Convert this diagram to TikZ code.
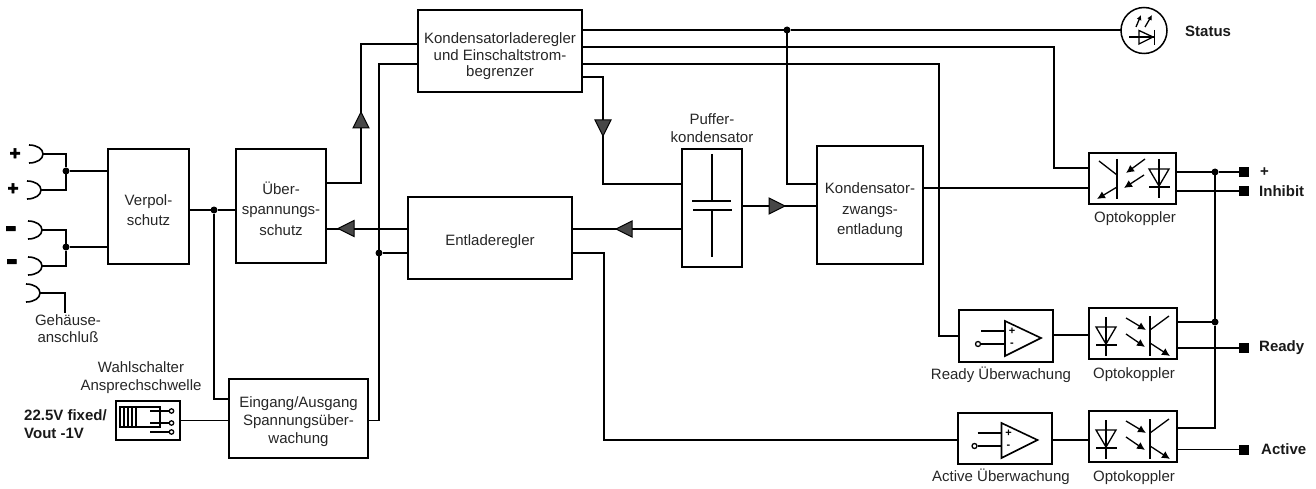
\documentclass[tikz,border=0pt]{standalone}
\usepackage{fontspec}
\setmainfont{Liberation Sans}
\newfontfamily\heavyfont[FakeBold=2.5]{Liberation Sans Bold}
\usetikzlibrary{arrows.meta}
\newcommand{\dn}{\rule{0pt}{18pt}}
\newcommand{\dnn}{\rule{0pt}{22pt}}
\newcommand{\socketsym}[3]{\coordinate (#1) at (#2,#3);
  \draw[wire] (#2-14,#3-9) .. controls (#2-6,#3-9) and (#2,#3-5) .. (#2,#3) .. controls (#2,#3+5) and (#2-6,#3+9) .. (#2-14,#3+9);}
\newcommand{\optoL}[2]{% LED left, transistor right; #1 x, #2 y of box corner
  \begin{scope}[shift={(#1,#2)}]
    \draw[sym] (17,9) -- (17,48) (7,37) -- (28,37);
    \draw[sym] (7,19) -- (27,19) -- (17,36) -- cycle;
    \draw[sym,-{Latex[length=8pt,width=8pt]}] (37,10) -- (57,22);
    \draw[sym,-{Latex[length=8pt,width=8pt]}] (37,26) -- (56,39);
    \draw[wire] (61,8) -- (61,48);
    \draw[sym] (61,22) -- (80,8);
    \draw[sym,-{Latex[length=8pt,width=8pt]}] (61,35) -- (81,48);
  \end{scope}}
\newcommand{\opampsym}[2]{\begin{scope}[shift={(#1,#2)}]
    \draw[wire] (46,11) -- (46,46) -- (82,28) -- cycle;
    \draw[sym] (22,21) -- (46,21) (22,34) -- (46,34);
    \draw[sym,fill=white] (19,34) circle (2.5);
    \node[opmark] at (53,21.5) {+};
    \node[opmark] at (53,35) {-};
  \end{scope}}
\tikzset{
  box/.style={draw=black,line width=1.6pt,fill=white,align=center,inner sep=0pt,outer sep=0pt,font=\fontsize{15}{20.5}\selectfont,text=black!85},
  wire/.style={line width=1.6pt,black},
  thick wire/.style={line width=2.1pt,black},
  sym/.style={line width=1.3pt,black},
  lab/.style={align=center,inner sep=0pt,font=\fontsize{15}{18}\selectfont,text=black!85},
  blab/.style={anchor=west,align=left,inner sep=0pt,font=\fontsize{15}{18}\selectfont\bfseries,text=black!90},
  opmark/.style={inner sep=0pt,font=\fontsize{11}{11}\selectfont\bfseries},
  jdot/.style={circle,fill=black,inner sep=0pt,minimum size=7pt,outer sep=0pt},
  pin/.style={rectangle,fill=black,inner sep=0pt,minimum size=10pt,outer sep=0pt},
  tri/.style={draw=black,line width=1pt,fill=black!72,line join=miter},
  plusmark/.style={inner sep=0pt,font=\fontsize{19}{19}\heavyfont},
  minusmark/.style={inner sep=0pt,font=\fontsize{34}{34}\heavyfont},
}
\begin{document}
\begin{tikzpicture}[x=1pt,y=-1pt]
\useasboundingbox (0,0) rectangle (1316,489);
% Boxes
\node[box,minimum width=81pt,minimum height=115pt] (ver) at (148.5,206.5) {\dn Verpol-\\schutz};
\node[box,minimum width=90pt,minimum height=114pt] (ueb) at (281,206) {\dn Über-\\spannungs-\\schutz};
\node[box,minimum width=139pt,minimum height=79pt,font=\fontsize{15}{18}\selectfont] (ein) at (298.5,418.5) {\dn Eingang/Ausgang\\Spannungsüber-\\wachung};
\node[box,minimum width=64pt,minimum height=39pt] (swi) at (148,420.5) {};
\node[box,minimum width=164pt,minimum height=82pt,font=\fontsize{15}{16.5}\selectfont] (kon) at (500,51) {\dnn Kondensatorladeregler\\und Einschaltstrom-\\begrenzer};
\node[box,minimum width=164pt,minimum height=82pt] (ent) at (490,238) {\dn Entladeregler};
\node[box,minimum width=60pt,minimum height=118pt] (puf) at (712,208) {};
\node[box,minimum width=106pt,minimum height=118pt] (zwa) at (870,205) {\dnn Kondensator-\\zwangs-\\entladung};
\node[box,minimum width=87pt,minimum height=51pt] (op1) at (1132.5,178.5) {};
\node[box,minimum width=88pt,minimum height=51pt] (op2) at (1133,333.5) {};
\node[box,minimum width=88pt,minimum height=51pt] (op3) at (1133,436.5) {};
\node[box,minimum width=94pt,minimum height=52pt] (rdy) at (1006,336) {};
\node[box,minimum width=94pt,minimum height=51pt] (act) at (1005,438.5) {};
\node[draw=black,line width=1.5pt,circle,minimum size=46pt,inner sep=0pt,outer sep=0pt] (led) at (1144,30.5) {};
% Terminals
\socketsym{s1}{43}{154}
\socketsym{s2}{41}{190}
\socketsym{s3}{42}{230}
\socketsym{s4}{42}{266}
\socketsym{s5}{40}{293}
\node[plusmark] (p1) at (15,154) {+};
\node[plusmark] (p2) at (13,189) {+};
\node[minusmark] (p3) at (11,232) {-};
\node[minusmark] (p4) at (12,265) {-};
\node[jdot] (j1) at (66,171) {};
\node[jdot] (j2) at (66,247) {};
\node[jdot] (j3) at (214,210) {};
\node[jdot] (j4) at (379,253) {};
\node[jdot] (j5) at (787,30) {};
\node[jdot] (j6) at (1215,172) {};
\node[jdot] (j7) at (1215,322) {};
\node[pin] (t1) at (1244,172) {};
\node[pin] (t2) at (1244,191) {};
\node[pin] (t3) at (1243.5,348) {};
\node[pin] (t4) at (1244,449.5) {};
% Connectors, left part
\draw[wire] (s1) -- (66,154) -- (j1) (s2) -- (66,190) -- (j1);
\draw[wire] (s3) -- (66,230) -- (j2) (s4) -- (66,266) -- (j2);
\coordinate (gnd) at (65,313);
\draw[sym] (s5) -- (gnd |- s5) -- (gnd);
\draw[wire] (j1) -- (ver.west |- j1);
\draw[wire] (j2) -- (ver.west |- j2);
\draw[wire] (ver.east |- j3) -- (j3) -- (ueb.west |- j3);
\draw[wire] (j3) -- (214,399) -- (ein.west |- 0,399);
\draw[wire] (swi.east) -- (ein.west |- swi.east);
\draw[wire] (ein.east |- swi.east) -- (379,420.5) -- (379,64) -- (kon.west |- 0,64);
\draw[wire] (j4) -- (ent.west |- j4);
\draw[thick wire] (ueb.east |- 0,183) -- (361,183) -- (361,44) -- (kon.west |- 0,44);
\draw[wire] (ent.west |- 0,229) -- (ueb.east |- 0,229);
\draw[wire] (puf.west |- 0,229) -- (ent.east |- 0,229);
% Connectors, top part
\draw[thick wire] (kon.east |- 0,30) -- (j5) -- (led.west |- j5);
\draw[wire] (j5) -- (787,184) -- (zwa.west |- 0,184);
\draw[wire] (kon.east |- 0,47) -- (1054,47) -- (1054,168) -- (op1.west |- 0,168);
\draw[wire] (kon.east |- 0,64) -- (939,64) -- (939,336) -- (rdy.west |- 0,336);
\draw[wire] (kon.east |- 0,77) -- (603,77) -- (603,184) -- (puf.west |- 0,184);
\draw[wire] (puf.east |- 0,206) -- (zwa.west |- 0,206);
\draw[wire] (zwa.east |- 0,188) -- (op1.west |- 0,188);
\draw[wire] (ent.east |- 0,253) -- (604,253) -- (604,440) -- (act.west |- 0,440);
\draw[wire] (rdy.east |- 0,335) -- (op2.west |- 0,335);
\draw[wire] (act.east |- 0,440) -- (op3.west |- 0,440);
% Connectors, right part
\draw[wire] (op1.east |- j6) -- (j6) -- (t1);
\draw[wire] (op1.east |- t2) -- (t2);
\draw[wire] (j6) -- (j7) -- (1215,428) -- (op3.east |- 0,428);
\draw[wire] (op2.east |- j7) -- (j7);
\draw[wire] (op2.east |- t3) -- (t3);
\draw[wire] (op3.east |- t4) -- (t4);
% Flow triangles
\draw[tri] (361,112) -- (353,128) -- (369,128) -- cycle;
\draw[tri] (338,228.5) -- (354,220.5) -- (354,236.5) -- cycle;
\draw[tri] (616,229) -- (632,221) -- (632,237) -- cycle;
\draw[tri] (603,136) -- (595,120) -- (611,120) -- cycle;
\draw[tri] (785,206) -- (769,198) -- (769,214) -- cycle;
% Capacitor
\draw[wire] (712,154) -- (712,201) (692,201) -- (731,201) (693,210) -- (732,210) (712,210) -- (712,257);
% Switch
\draw[sym] (120,407) rectangle (160,427) (124,407) -- (124,427) (128,407) -- (128,427) (132,407) -- (132,427) (136,407) -- (136,427);
\draw[sym] (150,411) -- (169,411) (150,423) -- (169,423) (150,432) -- (169,432);
\draw[sym,fill=white] (171.5,411) circle (2.2) (171.5,423) circle (2.2) (171.5,432) circle (2.2);
% Optocoupler 1
\begin{scope}[shift={(1089,153)}]
  \draw[sym] (70,6) -- (70,45) (60,34) -- (81,34);
  \draw[sym] (60,16) -- (80,16) -- (70,33) -- cycle;
  \draw[sym,-{Latex[length=8pt,width=8pt]}] (56,6) -- (37,20);
  \draw[sym,-{Latex[length=8pt,width=8pt]}] (55,22) -- (35,35);
  \draw[wire] (28,6) -- (28,46);
  \draw[sym] (10,8) -- (28,22);
  \draw[sym,-{Latex[length=8pt,width=8pt]}] (28,34) -- (8,46);
\end{scope}
\optoL{1089}{308}
\optoL{1089}{411}
\opampsym{959}{310}
\opampsym{955.5}{412}
% Status LED
\draw[sym] (1129,37) -- (1155,37);
\draw[sym] (1139,30.5) -- (1139,44) -- (1153,37) -- cycle;
\draw[wire] (1154.5,30) -- (1154.5,45);
\draw[sym,-{Latex[length=5pt,width=5pt]}] (1136,27) -- (1141,15);
\draw[sym,-{Latex[length=5pt,width=5pt]}] (1145,27) -- (1152,15);
% Labels
\node[lab,font=\fontsize{15}{17}\selectfont] (l1) at (68,328.5) {Gehäuse-\\anschluß};
\node[lab] (l2) at (141,377.5) {Wahlschalter\\Ansprechschwelle};
\node[blab] (l3) at (24,424) {22.5V fixed/\\Vout -1V};
\node[lab] (l4) at (712,128.5) {Puffer-\\kondensator};
\node[lab] (l5) at (1135,219) {Optokoppler};
\node[lab] (l6) at (1001,375) {Ready Überwachung};
\node[lab] (l7) at (1134,375) {Optokoppler};
\node[lab] (l8) at (1001,477) {Active Überwachung};
\node[lab] (l9) at (1134,478) {Optokoppler};
\node[blab] (l10) at (1185,31) {Status};
\node[blab] (l11) at (1260,172) {+};
\node[blab] (l12) at (1259,191) {Inhibit};
\node[blab] (l13) at (1259,348) {Ready};
\node[blab] (l14) at (1261,449) {Active};
\end{tikzpicture}
\end{document}
